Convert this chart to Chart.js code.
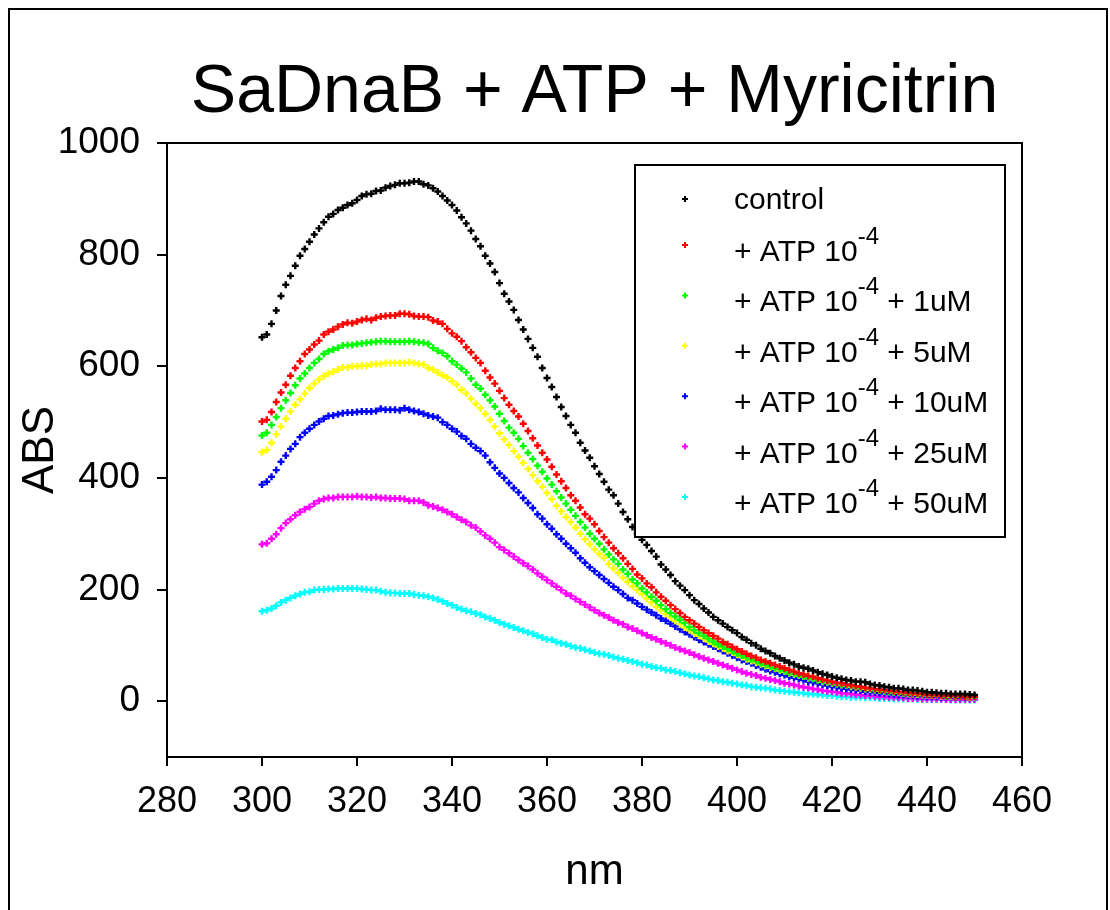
<!DOCTYPE html>
<html lang="en">
<head>
<meta charset="UTF-8">
<title>SaDnaB + ATP + Myricitrin</title>
<style>
  html, body { margin: 0; padding: 0; background: #fff; }
  #wrap { width: 1110px; height: 910px; }
</style>
</head>
<body>
<div id="wrap"><canvas id="absChart" width="1110" height="910"></canvas></div>
<script src="https://cdn.jsdelivr.net/npm/chart.js"></script>
<script>
// one reading per nm, 300 -> 450
const wavelengths = Array.from({length: 151}, (_, i) => 300 + i);

const control = [
  652, 657, 676, 700, 726, 746, 762, 780, 798, 810,
  823, 836, 847, 858, 868, 873, 880, 884, 889, 892,
  898, 905, 908, 909, 914, 915, 920, 923, 925, 928,
  928, 929, 931, 931, 926, 924, 919, 913, 905, 897,
  889, 879, 867, 856, 843, 828, 815, 798, 784, 769,
  749, 730, 716, 701, 683, 666, 649, 633, 617, 597,
  579, 563, 545, 527, 511, 495, 481, 463, 449, 436,
  421, 407, 393, 379, 369, 354, 339, 326, 312, 300,
  289, 280, 269, 259, 245, 236, 226, 215, 207, 199,
  190, 181, 174, 166, 159, 151, 145, 139, 133, 127,
  122, 115, 110, 104, 100, 94, 90, 86, 81, 77,
  73, 69, 66, 62, 60, 58, 55, 52, 49, 47,
  44, 42, 40, 38, 37, 35, 35, 34, 31, 29,
  28, 26, 25, 23, 23, 22, 20, 20, 19, 18,
  16, 16, 15, 14, 14, 13, 13, 13, 13, 12, 11
];
const atp = [
  501, 504, 518, 536, 553, 567, 583, 597, 609, 622,
  630, 639, 646, 657, 662, 666, 671, 675, 678, 677,
  680, 683, 685, 683, 687, 689, 690, 691, 691, 694,
  694, 693, 690, 689, 689, 688, 682, 680, 676, 667,
  659, 653, 645, 634, 625, 615, 606, 592, 580, 569,
  556, 543, 531, 520, 510, 497, 484, 471, 458, 445,
  433, 420, 406, 394, 382, 369, 359, 347, 335, 327,
  317, 305, 294, 284, 274, 265, 256, 246, 237, 227,
  220, 211, 204, 195, 187, 180, 172, 165, 158, 151,
  145, 139, 133, 127, 122, 117, 112, 106, 102, 97,
  93, 89, 85, 81, 78, 74, 71, 68, 65, 62,
  59, 56, 53, 50, 48, 45, 44, 41, 39, 37,
  35, 33, 32, 30, 29, 27, 26, 24, 23, 22,
  21, 20, 19, 18, 17, 16, 15, 14, 14, 13,
  12, 11, 11, 10, 10, 10, 9, 9, 8, 8, 8
];
const myr1 = [
  476, 481, 495, 509, 525, 539, 552, 566, 578, 587,
  597, 606, 613, 622, 627, 630, 633, 637, 638, 638,
  640, 641, 642, 643, 644, 645, 645, 644, 644, 644,
  644, 645, 644, 643, 642, 640, 633, 628, 624, 618,
  609, 603, 596, 589, 578, 567, 560, 549, 539, 528,
  515, 502, 490, 481, 470, 457, 445, 434, 422, 411,
  399, 388, 376, 365, 354, 343, 332, 321, 311, 300,
  291, 282, 272, 263, 254, 246, 236, 228, 218, 211,
  202, 195, 187, 180, 172, 165, 158, 152, 146, 140,
  133, 127, 122, 117, 112, 107, 102, 98, 94, 90,
  86, 82, 78, 75, 72, 68, 65, 62, 59, 57,
  54, 51, 49, 47, 44, 42, 40, 38, 36, 35,
  33, 31, 30, 28, 27, 26, 24, 23, 22, 20,
  19, 18, 17, 16, 16, 14, 14, 13, 13, 12,
  11, 11, 10, 10, 9, 9, 8, 8, 8, 8, 7
];
const myr5 = [
  446, 450, 463, 478, 492, 506, 519, 531, 541, 551,
  561, 569, 576, 582, 587, 590, 594, 598, 598, 600,
  600, 601, 601, 603, 604, 604, 606, 606, 606, 606,
  606, 607, 606, 604, 603, 597, 594, 589, 584, 580,
  573, 567, 558, 551, 542, 533, 525, 515, 504, 492,
  480, 469, 459, 448, 438, 427, 416, 405, 394, 384,
  373, 362, 350, 340, 330, 321, 311, 300, 290, 281,
  272, 264, 257, 246, 238, 230, 221, 214, 206, 199,
  192, 184, 177, 169, 163, 156, 150, 144, 138, 132,
  127, 121, 117, 112, 107, 103, 98, 95, 90, 87,
  83, 79, 75, 72, 69, 66, 63, 60, 58, 55,
  53, 50, 48, 46, 44, 41, 40, 38, 35, 34,
  32, 31, 29, 28, 26, 25, 23, 22, 21, 20,
  19, 18, 17, 16, 15, 14, 13, 13, 12, 11,
  11, 10, 10, 9, 9, 8, 8, 8, 8, 7, 7
];
const myr10 = [
  388, 393, 402, 414, 429, 440, 452, 461, 473, 481,
  488, 495, 501, 506, 511, 512, 514, 516, 517, 517,
  518, 519, 519, 519, 520, 524, 522, 522, 522, 521,
  525, 522, 520, 518, 515, 512, 510, 508, 500, 495,
  488, 483, 475, 470, 461, 454, 448, 440, 428, 418,
  408, 400, 391, 382, 374, 364, 355, 346, 335, 327,
  317, 309, 299, 291, 282, 274, 266, 256, 248, 240,
  233, 226, 219, 212, 205, 199, 192, 185, 181, 175,
  169, 164, 159, 154, 148, 144, 139, 134, 129, 124,
  120, 115, 110, 106, 102, 98, 94, 90, 86, 82,
  78, 74, 71, 68, 64, 61, 57, 54, 52, 49,
  47, 44, 42, 40, 38, 35, 34, 32, 30, 28,
  26, 25, 23, 22, 21, 20, 19, 17, 16, 16,
  14, 14, 13, 12, 11, 11, 10, 10, 9, 9,
  8, 8, 8, 7, 7, 7, 7, 6, 6, 6, 6
];
const myr25 = [
  281, 283, 291, 299, 310, 319, 326, 333, 339, 344,
  348, 354, 359, 362, 364, 364, 366, 366, 366, 366,
  367, 366, 366, 365, 366, 364, 364, 363, 363, 363,
  362, 359, 359, 359, 356, 351, 349, 346, 343, 339,
  335, 330, 325, 321, 315, 311, 304, 297, 291, 284,
  276, 271, 265, 259, 253, 247, 242, 236, 229, 223,
  217, 211, 205, 199, 193, 189, 183, 178, 173, 168,
  163, 158, 154, 150, 145, 141, 138, 133, 130, 126,
  122, 118, 114, 111, 107, 104, 100, 96, 93, 90,
  87, 83, 80, 77, 74, 71, 68, 65, 62, 59,
  56, 53, 50, 48, 46, 43, 41, 39, 37, 35,
  32, 31, 29, 27, 25, 24, 22, 21, 19, 18,
  17, 16, 14, 14, 13, 12, 11, 10, 10, 9,
  8, 8, 7, 7, 6, 6, 5, 5, 5, 4,
  4, 4, 4, 4, 3, 3, 3, 3, 3, 3, 3
];
const myr50 = [
  161, 163, 166, 171, 177, 181, 185, 189, 192, 195,
  196, 199, 200, 200, 201, 201, 202, 202, 202, 202,
  202, 201, 200, 199, 199, 197, 195, 194, 194, 193,
  193, 193, 191, 190, 189, 187, 185, 182, 179, 175,
  172, 168, 165, 162, 160, 157, 155, 151, 148, 145,
  141, 138, 135, 132, 129, 126, 123, 121, 117, 114,
  111, 110, 106, 104, 102, 99, 96, 95, 92, 90,
  87, 85, 84, 82, 79, 77, 75, 73, 71, 69,
  66, 65, 62, 60, 59, 56, 55, 53, 51, 49,
  47, 45, 44, 42, 40, 38, 37, 35, 34, 32,
  31, 29, 28, 26, 25, 24, 23, 22, 20, 19,
  18, 17, 16, 15, 14, 13, 13, 12, 11, 10,
  10, 9, 8, 8, 7, 7, 7, 6, 6, 6,
  5, 5, 5, 4, 4, 4, 4, 4, 3, 3,
  3, 3, 3, 3, 3, 2, 2, 2, 2, 2, 2
];

const seriesNames = [
  'control',
  '+ ATP 10^{-4}',
  '+ ATP 10^{-4} + 1uM',
  '+ ATP 10^{-4} + 5uM',
  '+ ATP 10^{-4} + 10uM',
  '+ ATP 10^{-4} + 25uM',
  '+ ATP 10^{-4} + 50uM'
];
const seriesValues = [control, atp, myr1, myr5, myr10, myr25, myr50];
const seriesColors = ['#000000', '#ff0000', '#00ff00', '#ffff00', '#0000ff', '#ff00ff', '#00ffff'];

const xTicks = [280, 300, 320, 340, 360, 380, 400, 420, 440, 460];
const yTicks = [0, 200, 400, 600, 800, 1000];

const FONT = '"Liberation Sans", Arial, Helvetica, sans-serif';

// draw a label where ^{..} is a superscript
function drawRich(ctx, text, x, y) {
  const parts = text.split(/\^\{([^}]*)\}/);
  parts.forEach((p, i) => {
    if (i % 2 === 0) {
      ctx.font = '30px ' + FONT;
      ctx.fillText(p, x, y);
    } else {
      ctx.font = '24px ' + FONT;
      ctx.fillText(p, x, y - 17);
    }
    x += ctx.measureText(p).width;
  });
}

const decorPlugin = {
  id: 'decor',
  afterDraw(chart) {
    const ctx = chart.ctx;
    const area = chart.chartArea;
    ctx.save();

    // outer frame
    ctx.strokeStyle = '#000';
    ctx.lineWidth = 2;
    ctx.strokeRect(9, 9, 1098, 920);

    // plot frame
    ctx.strokeRect(area.left, area.top, area.right - area.left, area.bottom - area.top);

    // title
    ctx.fillStyle = '#000';
    ctx.font = '68px ' + FONT;
    ctx.textAlign = 'center';
    ctx.textBaseline = 'alphabetic';
    ctx.fillText('SaDnaB + ATP + Myricitrin', (area.left + area.right) / 2, 112);

    // legend box
    ctx.fillStyle = '#fff';
    ctx.fillRect(635, 165, 370, 372);
    ctx.strokeRect(635, 165, 370, 372);

    ctx.textAlign = 'left';
    chart.data.datasets.forEach((ds, i) => {
      const base = i === 0 ? 209 : 261 + (i - 1) * 50.4;
      const my = i === 0 ? base - 10 : base - 16;
      ctx.strokeStyle = ds.borderColor;
      ctx.lineWidth = 2;
      ctx.beginPath();
      ctx.moveTo(682, my); ctx.lineTo(688, my);
      ctx.moveTo(685, my - 3); ctx.lineTo(685, my + 3);
      ctx.stroke();
      ctx.fillStyle = '#000';
      drawRich(ctx, ds.label, 734, base);
    });
    ctx.restore();
  }
};

new Chart(document.getElementById('absChart'), {
  type: 'scatter',
  data: {
    datasets: seriesValues.map((vals, i) => ({
      label: seriesNames[i],
      data: vals.map((v, j) => ({x: wavelengths[j], y: v})),
      borderColor: seriesColors[i],
      backgroundColor: seriesColors[i],
      pointStyle: 'cross',
      pointRadius: 3.5,
      pointBorderWidth: 2.4,
      showLine: false
    }))
  },
  options: {
    responsive: false,
    animation: false,
    events: [],
    layout: { padding: { left: 0, right: 88, top: 143, bottom: 0 } },
    plugins: {
      legend: { display: false },
      title: { display: false },
      tooltip: { enabled: false }
    },
    scales: {
      x: {
        type: 'linear',
        min: 280,
        max: 460,
        afterBuildTicks: (axis) => { axis.ticks = xTicks.map(v => ({value: v})); },
        afterFit: (axis) => { axis.height = 153; },
        border: { display: false },
        grid: { drawOnChartArea: false, drawTicks: true, tickLength: 9, color: '#000', lineWidth: 2 },
        ticks: { color: '#000', font: { family: FONT, size: 36 }, padding: 14, maxRotation: 0,
                 callback: (v) => String(v) },
        title: { display: true, text: 'nm', color: '#000', font: { family: FONT, size: 42 }, padding: { top: 0, bottom: 12 } }
      },
      y: {
        type: 'linear',
        min: -100,
        max: 1000,
        afterBuildTicks: (axis) => { axis.ticks = yTicks.map(v => ({value: v})); },
        afterFit: (axis) => { axis.width = 167; },
        border: { display: false },
        grid: { drawOnChartArea: false, drawTicks: true, tickLength: 10, color: '#000', lineWidth: 2 },
        ticks: { color: '#000', font: { family: FONT, size: 37 }, padding: 17,
                 callback: (v) => String(v) },
        title: { display: true, text: 'ABS', color: '#000', font: { family: FONT, size: 44 }, padding: { top: 14, bottom: 0 } }
      }
    }
  },
  plugins: [decorPlugin]
});
</script>
</body>
</html>
